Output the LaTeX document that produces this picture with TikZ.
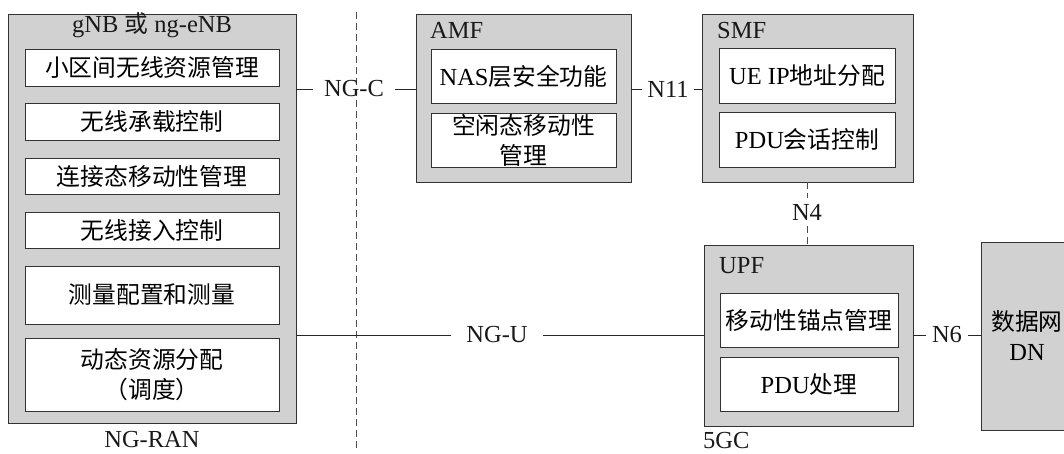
\documentclass[tikz,border=0pt]{standalone}
\usepackage{fontspec}
\setmainfont{Liberation Serif}
\newfontfamily\cjk[Scale=0.97]{Noto Sans CJK SC}
\usetikzlibrary{positioning}
\newcommand\sz{\fontsize{24.5}{30}\selectfont}
\tikzset{
  outer/.style={draw=black!80, fill=black!18, line width=0.9pt, inner sep=0pt},
  inner/.style={draw=black!80, fill=white, line width=0.9pt, inner sep=0pt, align=center},
  zh/.style={font=\sz\cjk},
  lbl/.style={inner sep=0pt, text=black!90},
  iface/.style={inner ysep=5pt, inner xsep=#1, text=black!90},
  link/.style={line width=0.9pt, draw=black!85},
  dlink/.style={line width=0.8pt, draw=black!70, dash pattern=on 7pt off 4pt}
}
\begin{document}
\begin{tikzpicture}[x=1pt, y=-1pt, font=\sz]
\useasboundingbox (0,0) rectangle (1064,453);

% NG-RAN
\node[outer, minimum width=288pt, minimum height=409pt] (gnb) at (152,218.5) {};
\node[lbl, anchor=base] (gnbt) at (152,32) {gNB {\cjk 或} ng-eNB};
\foreach \n/\y/\h/\t in {1/67.5/37/{小区间无线资源管理}, 2/121.5/37/{无线承载控制},
    3/176/36/{连接态移动性管理}, 4/230/36/{无线接入控制},
    5/295/58/{测量配置和测量}, 6/374.5/73/{动态资源分配\\（调度）}} {
  \node[inner, zh, minimum width=254pt, minimum height=\h pt] (g\n) at (152,\y) {\t};
}
\node[lbl, anchor=base] (ran) at (152,447.5) {NG-RAN};

\draw[dlink] (356,12) coordinate (ctop) -- (356,448) coordinate (cbot);

% 5GC
\node[outer, minimum width=215pt, minimum height=168pt] (amf) at (523.5,98) {};
\node[lbl, anchor=base west] (amft) at (430,38) {AMF};
\node[inner, minimum width=185pt, minimum height=54pt] (a1) at (523.5,76) {NAS{\cjk 层安全功能}};
\node[inner, zh, minimum width=185pt, minimum height=54pt] (a2) at (523.5,140) {空闲态移动性\\管理};

\node[outer, minimum width=211pt, minimum height=168pt] (smf) at (807.5,98) {};
\node[lbl, anchor=base west] (smft) at (717,38) {SMF};
\node[inner, minimum width=176pt, minimum height=55pt] (s1) at (807,75.5) {UE IP{\cjk 地址分配}};
\node[inner, minimum width=176pt, minimum height=55pt] (s2) at (807,139.5) {PDU{\cjk 会话控制}};

\node[outer, minimum width=209pt, minimum height=181pt] (upf) at (808.5,335.5) {};
\node[lbl, anchor=base west] (upft) at (719,273) {UPF};
\node[inner, zh, minimum width=178pt, minimum height=54pt] (u1) at (809,320) {移动性锚点管理};
\node[inner, minimum width=178pt, minimum height=54pt] (u2) at (809,384) {PDU{\cjk 处理}};
\node[lbl, anchor=base west] (cgc) at (703,448) {5GC};

\node[outer, align=center, minimum width=92pt, minimum height=188pt] (dn) at (1027,336) {\cjk 数据网\\\rmfamily DN};

% interfaces
\node[iface=11pt] (ngc) at (354,89) {NG-C};
\draw[link] (gnb.east |- ngc) -- (ngc.west);
\draw[link] (ngc.east) -- (amf.west |- ngc);

\node[iface=5pt] (n11) at (668,89) {N11};
\draw[link] (amf.east |- n11) -- (n11.west);
\draw[link] (n11.east) -- (smf.west |- n11);

\node[iface=0pt, inner ysep=6pt] (n4) at (807,212) {N4};
\draw[dlink] (smf.south -| n4) -- (n4.north);
\draw[dlink] (n4.south) -- (upf.north -| n4);

\node[iface=15pt] (ngu) at (497,335) {NG-U};
\draw[link] (gnb.east |- ngu) -- (ngu.west);
\draw[link] (ngu.east) -- (upf.west |- ngu);

\node[iface=6pt] (n6) at (947,335) {N6};
\draw[link] (upf.east |- n6) -- (n6.west);
\draw[link] (n6.east) -- (dn.west |- n6);
\end{tikzpicture}
\end{document}
